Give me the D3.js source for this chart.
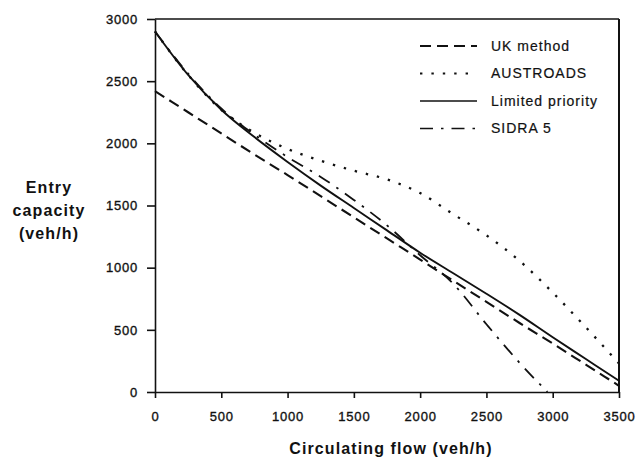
<html>
<script src='https://d3js.org/d3.v7.min.js'></script>
<style>
    body { margin: 0; background: #fff; }
    text { font-family: "Liberation Sans", Arial, sans-serif; fill: #111; }
    .tick text { font-size: 13px; letter-spacing: 0.8px; stroke: #111; stroke-width: 0.35px; }
    .tick line, .domain { stroke: #111; stroke-width: 1.6; }
    .title { font-weight: bold; font-size: 16px; letter-spacing: 1.1px; }
    .legend text { font-size: 14px; letter-spacing: 1px; stroke: #111; stroke-width: 0.2px; }
</style>
<body>
<svg width=638 height=457 id="chart"></svg>
<script>
// circulating flow (veh/h)
var flow = [0, 250, 500, 750, 1000, 1250, 1500, 1750, 2000, 2250, 2500, 2750, 3000, 3250, 3500];
// entry capacity (veh/h)
var ukMethod  = [2420, 2250, 2080, 1910, 1745, 1575, 1405, 1235, 1065, 895, 725, 555, 390, 220, 50];
var austroads = [2900, 2550, 2270, 2085, 1955, 1860, 1780, 1710, 1600, 1430, 1260, 1055, 800, 520, 230];
var limited   = [2900, 2550, 2270, 2050, 1850, 1660, 1480, 1300, 1120, 955, 790, 620, 440, 265, 90];
var sidraFlow = [0, 250, 500, 750, 1000, 1250, 1500, 1750, 2000, 2250, 2500, 2750, 2960];
var sidra5    = [2900, 2560, 2280, 2070, 1890, 1730, 1545, 1340, 1100, 870, 545, 235, 0];

var xTicks = [0, 500, 1000, 1500, 2000, 2500, 3000, 3500];
var yTicks = [0, 500, 1000, 1500, 2000, 2500, 3000];
var seriesNames = ["UK method", "AUSTROADS", "Limited priority", "SIDRA 5"];

var svg = d3.select("#chart"),
    plotL = 155, plotT = 19, plotR = 619, plotB = 392;

var x = d3.scaleLinear().domain([0, 3500]).range([plotL, plotR]);
var y = d3.scaleLinear().domain([0, 3000]).range([plotB, plotT]);

// dash styles per series
var styles = {
    "UK method":        { dash: "11,6", w: 2.1 },
    "AUSTROADS":        { dash: "2.4,9", w: 2.3 },
    "Limited priority": { dash: null, w: 1.9 },
    "SIDRA 5":          { dash: "13,8,2.5,8", w: 1.8 }
};

var series = [
    { name: "UK method", xs: flow, ys: ukMethod },
    { name: "AUSTROADS", xs: flow, ys: austroads },
    { name: "Limited priority", xs: flow, ys: limited },
    { name: "SIDRA 5", xs: sidraFlow, ys: sidra5 }
];

var line = d3.line()
    .x(function(d) { return x(d[0]); })
    .y(function(d) { return y(d[1]); })
    .curve(d3.curveMonotoneX);

svg.selectAll(".series")
    .data(series)
    .enter()
    .append("path")
    .attr("class", "series")
    .attr("fill", "none")
    .attr("stroke", "#111")
    .attr("stroke-width", function(d) { return styles[d.name].w; })
    .attr("stroke-dasharray", function(d) { return styles[d.name].dash; })
    .attr("d", function(d) { return line(d.xs.map(function(v, i) { return [v, d.ys[i]]; })); });

// axes
svg.append("g")
    .attr("transform", "translate(0," + plotB + ")")
    .call(d3.axisBottom(x).tickValues(xTicks).tickFormat(d3.format("d")).tickSize(6).tickSizeOuter(0).tickPadding(12))
    .selectAll("text").attr("dy", "0.85em");

svg.append("g")
    .attr("transform", "translate(" + plotL + ",0)")
    .call(d3.axisLeft(y).tickValues(yTicks).tickFormat(d3.format("d")).tickSize(8).tickSizeOuter(0).tickPadding(9));

svg.selectAll(".tick text").attr("font-family", null).attr("font-size", null);

// frame top and right
svg.append("line")
    .attr("x1", x(0)).attr("x2", x(3500)).attr("y1", y(3000)).attr("y2", y(3000))
    .attr("stroke", "#111").attr("stroke-width", 1.5);
svg.append("line")
    .attr("x1", x(3500)).attr("x2", x(3500)).attr("y1", y(3000)).attr("y2", y(0))
    .attr("stroke", "#111").attr("stroke-width", 2);

// titles
var yl = svg.append("text").attr("class", "title").attr("text-anchor", "middle");
yl.append("tspan").attr("x", 49).attr("y", 193).text("Entry");
yl.append("tspan").attr("x", 49).attr("y", 216).text("capacity");
yl.append("tspan").attr("x", 49).attr("y", 239).text("(veh/h)");

svg.append("text").attr("class", "title")
    .attr("x", 391).attr("y", 454)
    .attr("text-anchor", "middle")
    .text("Circulating flow (veh/h)");

// legend
var lg = svg.append("g").attr("class", "legend");
var rows = lg.selectAll("g")
    .data(seriesNames)
    .enter()
    .append("g")
    .attr("transform", function(d, i) { return "translate(420," + (46 + i * 27.5) + ")"; });

rows.append("line")
    .attr("x1", 0).attr("x2", 57)
    .attr("stroke", "#111")
    .attr("stroke-width", function(d) { return styles[d].w - 0.2; })
    .attr("stroke-dasharray", function(d) { return styles[d].dash; });

rows.append("text")
    .attr("x", 71).attr("dy", "0.35em")
    .text(function(d) { return d; });
</script>
</body>
</html>
